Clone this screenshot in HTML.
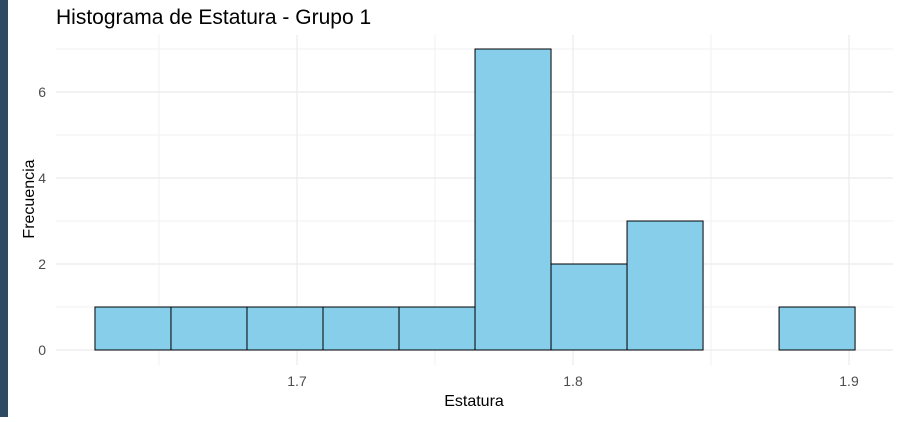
<!DOCTYPE html>
<html><head><meta charset="utf-8"><style>
body{margin:0;background:#fff;width:902px;height:417px;overflow:hidden;font-family:"Liberation Sans",sans-serif}
</style></head><body>
<svg width="902" height="417">
<rect x="0" y="0" width="8" height="417" fill="#2d4a62"/>
<text x="56" y="24" font-size="21" fill="#000">Histograma de Estatura - Grupo 1</text>
<g id="grid"></g>
<g id="bars"></g>
<g id="axes"></g>
<text x="474" y="406" font-size="16" text-anchor="middle" fill="#000">Estatura</text>
<text transform="translate(34,199) rotate(-90)" font-size="16" text-anchor="middle" fill="#000">Frecuencia</text>
</svg>
<script>
const binStart = 1.6268;
const binWidth = 0.02754;
const counts = [1,1,1,1,1,7,2,3,0,1];
const xTicks = [1.7,1.8,1.9];
const xMinor = [1.65,1.75,1.85];
const yTicks = [0,2,4,6];
const yMinor = [1,3,5,7];
const ns="http://www.w3.org/2000/svg";
const X=v=>297+(v-1.7)*2760;
const Y=v=>350-v*43;
const L=56,R=893;
function mk(t,a,p){const e=document.createElementNS(ns,t);for(const k in a)e.setAttribute(k,a[k]);document.getElementById(p).appendChild(e);return e;}
yMinor.forEach(v=>{const e=mk('line',{x1:L,x2:R,y1:Y(v),y2:Y(v),stroke:'#f2f2f2','stroke-width':1},'grid');

});
xMinor.forEach(v=>{const e=mk('line',{x1:X(v),x2:X(v),y1:35,y2:365,stroke:'#f2f2f2','stroke-width':1},'grid');

});
yTicks.forEach(v=>{const e=mk('line',{x1:L,x2:R,y1:Y(v),y2:Y(v),stroke:'#ebebeb','stroke-width':1.2},'grid');


const t=mk('text',{x:46,y:Y(v)+5,'font-size':14,fill:'#4d4d4d','text-anchor':'end'},'axes');t.textContent=v;

});
xTicks.forEach(v=>{const e=mk('line',{x1:X(v),x2:X(v),y1:35,y2:365,stroke:'#ebebeb','stroke-width':1.2},'grid');


const t=mk('text',{x:X(v),y:386,'font-size':14,fill:'#4d4d4d','text-anchor':'middle'},'axes');t.textContent=v;

});
counts.forEach((c,i)=>{const x0=X(binStart+i*binWidth),x1=X(binStart+(i+1)*binWidth);
const b=mk('rect',{x:x0,y:Y(c),width:x1-x0,height:Y(0)-Y(c),fill:'#87ceeb',stroke:'#000','stroke-width':1},'bars');

});
</script>
</body></html>
